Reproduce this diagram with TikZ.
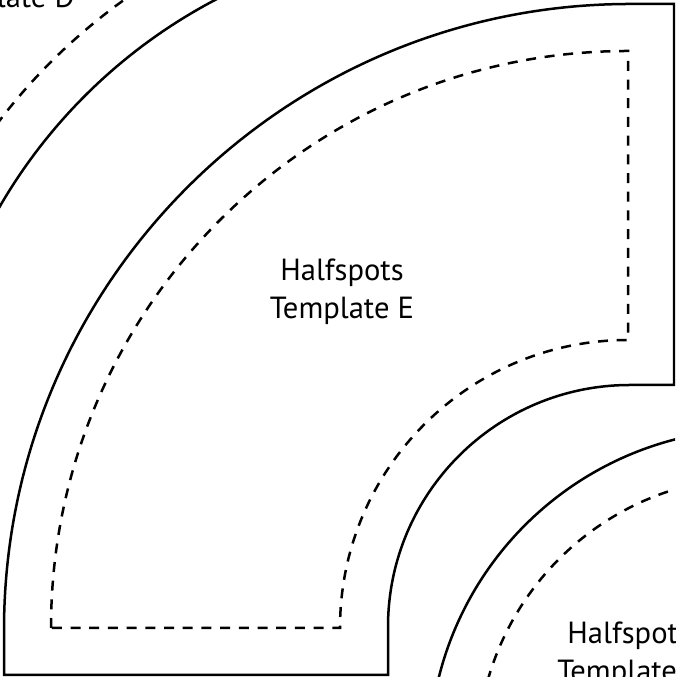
\documentclass[tikz,border=0pt]{standalone}
\usepackage{fontspec}
\setmainfont{PT Sans}
\tikzset{
    cutline/.style={line width=0.5mm, line join=miter},
    seamline/.style={line width=0.5mm, dash pattern=on 2mm off 1.74mm},
    templatelabel/.style={align=center, inner sep=0pt, font=\fontsize{17.4}{21.5}\selectfont},
}
\begin{document}
\begin{tikzpicture}[x=0.2mm, y=0.2mm]
    \useasboundingbox (0, 0) rectangle (675, 677);
    \clip (0, 0) rectangle (675, 677);
    % template E
    \draw[cutline] (4, 2) -- (4, 47) arc (180:90:626) -- (674, 673) -- (674, 292)
        -- (630, 292) arc (90:180:242) -- (388, 2) -- cycle;
    \draw[seamline] (51, 49) arc (180:90:577) -- (628, 337)
        arc (90:180:288) -- cycle;
    \node[templatelabel] (labelE) at (342, 385.5) {Halfspots\\Template E};
    % template D
    \draw[cutline] (466, 200) ++(155:539) arc (155:112:539);
    \draw[seamline] (466, 200) ++(145:587) arc (145:123:587);
    \node[templatelabel, anchor=south east] (labelD) at (75, 663) {Halfspots\\Template D};
    % template F
    \draw[cutline] (757, -80) ++(170:328) arc (170:100:328);
    \draw[seamline] (757, -80) ++(168:280) arc (168:100:280);
    \node[templatelabel, anchor=north west] (labelF) at (557, 55) {Halfspots\\Template F};
\end{tikzpicture}
\end{document}
